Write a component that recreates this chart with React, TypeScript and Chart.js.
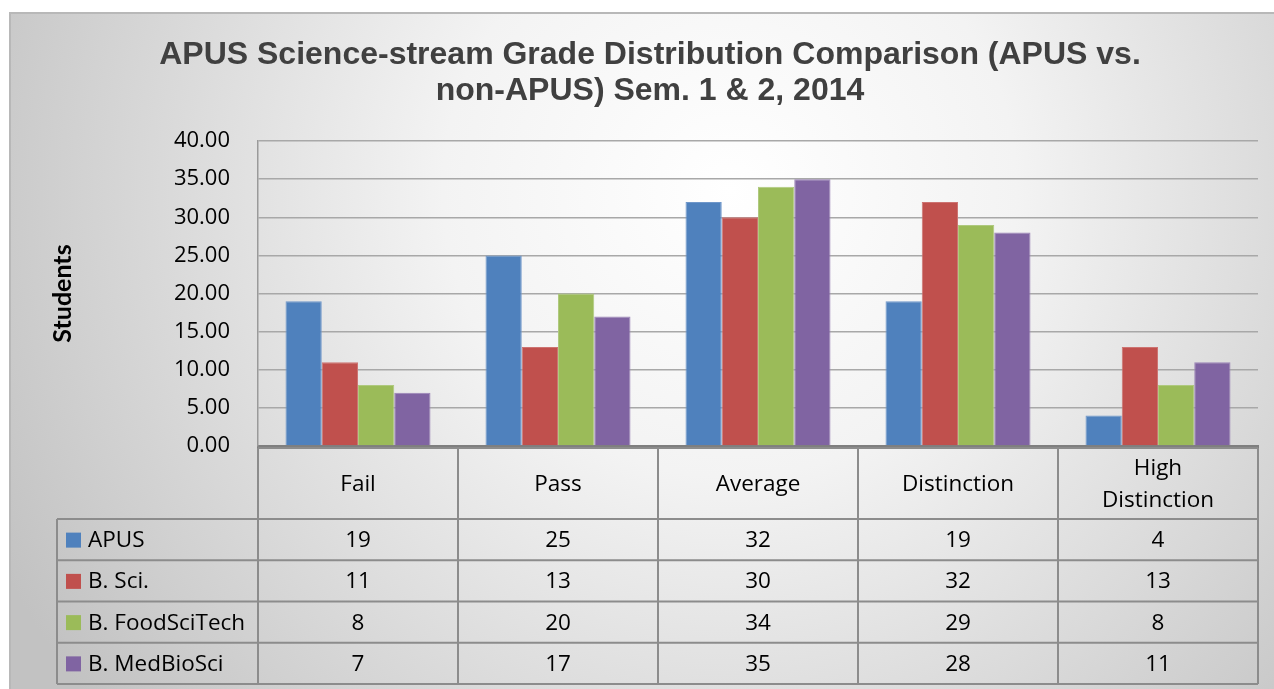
import React, { useEffect, useRef } from "react";
import { Chart, registerables } from "chart.js";

Chart.register(...registerables);

const categories: (string | string[])[] = ["Fail", "Pass", "Average", "Distinction", ["High", "Distinction"]];
const seriesNames = ["APUS", "B. Sci.", "B. FoodSciTech", "B. MedBioSci"];
const apus = [19, 25, 32, 19, 4];
const bSci = [11, 13, 30, 32, 13];
const bFoodSciTech = [8, 20, 34, 29, 8];
const bMedBioSci = [7, 17, 35, 28, 11];
const yTicks = [0, 5, 10, 15, 20, 25, 30, 35, 40];
const titleLines = ["APUS Science-stream Grade Distribution Comparison (APUS vs.", "non-APUS) Sem. 1 & 2, 2014"];
const yAxisTitle = "Students";

const colors = ["#4F81BD", "#C0504D", "#9BBB59", "#8064A2"];
const borderColors = ["#6F97CA", "#CD7371", "#AFC97E", "#9A83B6"];
const seriesValues = [apus, bSci, bFoodSciTech, bMedBioSci];

const W = 1274;
const H = 689;
const FONT = "'Open Sans', Lato, sans-serif";

const backgroundPlugin = {
  id: "bgFrame",
  beforeDraw(chart: any) {
    const ctx = chart.ctx;
    ctx.save();
    ctx.fillStyle = "#ffffff";
    ctx.fillRect(0, 0, W, H);
    const g = ctx.createRadialGradient(730, 190, 0, 730, 190, 820);
    g.addColorStop(0, "#ffffff");
    g.addColorStop(0.35, "#f3f3f3");
    g.addColorStop(1, "#c2c2c2");
    ctx.fillStyle = g;
    ctx.fillRect(10, 13, W - 10, H - 13);
    ctx.strokeStyle = "#b8b8b8";
    ctx.lineWidth = 2;
    ctx.beginPath();
    ctx.moveTo(10, H);
    ctx.lineTo(10, 13);
    ctx.lineTo(W, 13);
    ctx.stroke();

    // title
    ctx.fillStyle = "#404040";
    ctx.font = "bold 32px 'Liberation Sans', Arial, sans-serif";
    ctx.textAlign = "center";
    ctx.textBaseline = "middle";
    titleLines.forEach((t, k) => ctx.fillText(t, 650, 55 + k * 36.5));
    ctx.restore();
  },
};

const tablePlugin = {
  id: "dataTable",
  afterDraw(chart: any) {
    const ctx = chart.ctx;
    const area = chart.chartArea;
    const xs = chart.scales.x;
    const n = categories.length;
    const half = (xs.right - xs.left) / n / 2;
    const tableTop = area.bottom + 2;
    const headerH = 71;
    const rowH = 41.25;
    const legendLeft = 57;
    const rowsTop = tableTop + headerH;
    const tableBottom = rowsTop + rowH * seriesNames.length;

    ctx.save();
    ctx.strokeStyle = "#8c8c8c";
    ctx.lineWidth = 2;
    ctx.beginPath();
    for (let i = 0; i <= n; i++) {
      const x = i < n ? xs.getPixelForValue(i) - half : xs.getPixelForValue(n - 1) + half;
      ctx.moveTo(x, tableTop);
      ctx.lineTo(x, tableBottom);
    }
    ctx.moveTo(legendLeft, rowsTop);
    ctx.lineTo(legendLeft, tableBottom);
    ctx.moveTo(area.left, tableTop);
    ctx.lineTo(area.right, tableTop);
    for (let r = 0; r <= seriesNames.length; r++) {
      const y = rowsTop + r * rowH;
      ctx.moveTo(legendLeft, y);
      ctx.lineTo(area.right, y);
    }
    ctx.stroke();

    ctx.fillStyle = "#000000";
    ctx.font = `22.5px ${FONT}`;
    ctx.textAlign = "center";
    ctx.textBaseline = "middle";
    for (let i = 0; i < n; i++) {
      const cx = xs.getPixelForValue(i);
      const lab = categories[i];
      const lines = Array.isArray(lab) ? lab : [lab];
      const cy = tableTop + headerH / 2 + 1;
      const lh = 32;
      lines.forEach((t, k) => {
        ctx.fillText(t, cx, cy + (k - (lines.length - 1) / 2) * lh);
      });
    }
    for (let r = 0; r < seriesNames.length; r++) {
      const cy = rowsTop + r * rowH + rowH / 2 + 1;
      ctx.fillStyle = colors[r];
      ctx.fillRect(66, cy - 8, 15, 15);
      ctx.fillStyle = "#000000";
      ctx.textAlign = "left";
      ctx.fillText(seriesNames[r], 88, cy);
      ctx.textAlign = "center";
      for (let i = 0; i < n; i++) {
        ctx.fillText(String(seriesValues[r][i]), xs.getPixelForValue(i), cy);
      }
    }
    ctx.restore();
  },
};

export default function App() {
  const ref = useRef<HTMLCanvasElement | null>(null);
  useEffect(() => {
    document.body.style.margin = "0";
    const canvas = ref.current!;
    const chart = new Chart(canvas, {
      type: "bar",
      data: {
        labels: categories as any,
        datasets: seriesNames.map((name, i) => ({
          label: name,
          data: seriesValues[i],
          backgroundColor: colors[i],
          borderColor: borderColors[i],
          borderWidth: 1,
          categoryPercentage: 0.725,
          barPercentage: 1.0,
        })),
      },
      options: {
        responsive: false,
        animation: false,
        devicePixelRatio: 1,
        layout: { padding: { left: 0, right: 16, top: 141, bottom: 0 } },
        plugins: {
          legend: { display: false },
          tooltip: { enabled: false },
          title: { display: false },
        },
        scales: {
          x: {
            type: "category",
            ticks: { display: false },
            grid: { display: false, drawTicks: false },
            border: { display: true, color: "#7f7f7f", width: 3 },
            afterFit(scale: any) {
              scale.height = H - 446;
            },
          },
          y: {
            min: 0,
            max: 40,
            afterBuildTicks(scale: any) {
              scale.ticks = yTicks.map((v) => ({ value: v }));
            },
            ticks: {
              padding: 28,
              color: "#000000",
              font: { family: FONT, size: 22 },
              callback: (v: any) => Number(v).toFixed(2),
            },
            grid: { color: "#a8a8a8", lineWidth: 1.5, drawTicks: false },
            border: { display: true, color: "#9a9a9a", width: 1.5 },
            title: {
              display: true,
              text: yAxisTitle,
              color: "#000000",
              font: { family: "Lato, 'Open Sans', sans-serif", size: 25, weight: "bold", lineHeight: 1.2 },
              padding: { top: 48, bottom: 0 },
            },
            afterFit(scale: any) {
              scale.width = 258;
            },
          },
        },
      },
      plugins: [backgroundPlugin, tablePlugin],
    });
    return () => chart.destroy();
  }, []);
  return (
    <div style={{ position: "absolute", left: 0, top: 0, width: W, height: H }}>
      <canvas ref={ref} width={W} height={H} style={{ width: W, height: H, display: "block" }} />
    </div>
  );
}
